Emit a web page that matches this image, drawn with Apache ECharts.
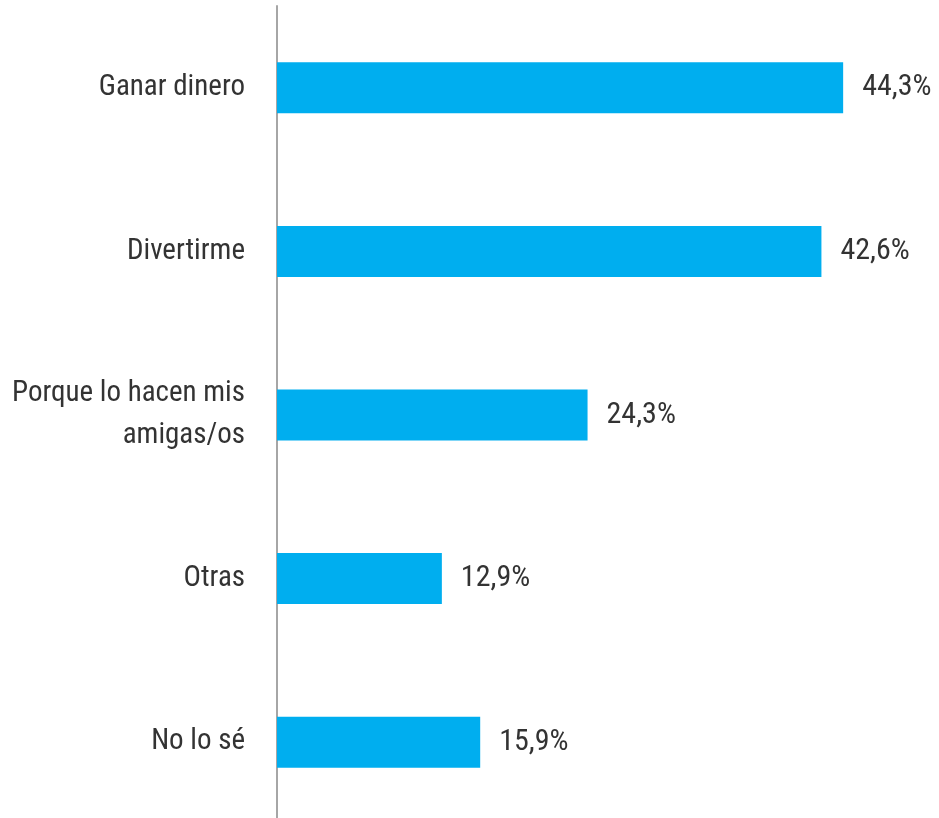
<!DOCTYPE html>
<html>
<head>
<meta charset="utf-8">
<script src="https://cdn.jsdelivr.net/npm/echarts@6/dist/echarts.min.js"></script>
<style>
  html, body { margin: 0; padding: 0; background: #fff; }
  #chart { width: 939px; height: 818px; }
</style>
</head>
<body>
<div id="chart"></div>
<script>
// categorias y valores (%)
var categories = ['Ganar dinero', 'Divertirme', 'Porque lo hacen mis\namigas/os', 'Otras', 'No lo sé'];
var values = [44.3, 42.6, 24.3, 12.9, 15.9];

var fontFam = "'Liberation Sans Narrow', 'Arial Narrow', 'Roboto Condensed', sans-serif";

var option = {
  backgroundColor: '#fff',
  animation: false,
  grid: {
    left: 277,
    width: 639,
    top: 6,
    height: 818,
    outerBoundsMode: 'none',
    containLabel: false
  },
  xAxis: {
    type: 'value',
    min: 0,
    max: 50,
    show: false
  },
  yAxis: {
    type: 'category',
    data: categories,
    inverse: true,
    axisLine: { show: true, lineStyle: { color: '#a6a6a6', width: 2 } },
    axisTick: { show: false },
    splitLine: { show: false },
    axisLabel: {
      margin: 32,
      color: '#333',
      fontSize: 29,
      lineHeight: 42,
      fontFamily: fontFam,
      align: 'right'
    }
  },
  series: [{
    type: 'bar',
    data: values,
    barWidth: 51,
    itemStyle: { color: '#00aeef' },
    label: {
      show: true,
      position: 'right',
      distance: 19,
      color: '#333',
      fontSize: 30,
      fontFamily: fontFam,
      formatter: function (p) {
        return p.value.toFixed(1).replace('.', ',') + '%';
      }
    }
  }]
};

var myChart = echarts.init(document.getElementById('chart'));
myChart.setOption(option);
</script>
</body>
</html>
